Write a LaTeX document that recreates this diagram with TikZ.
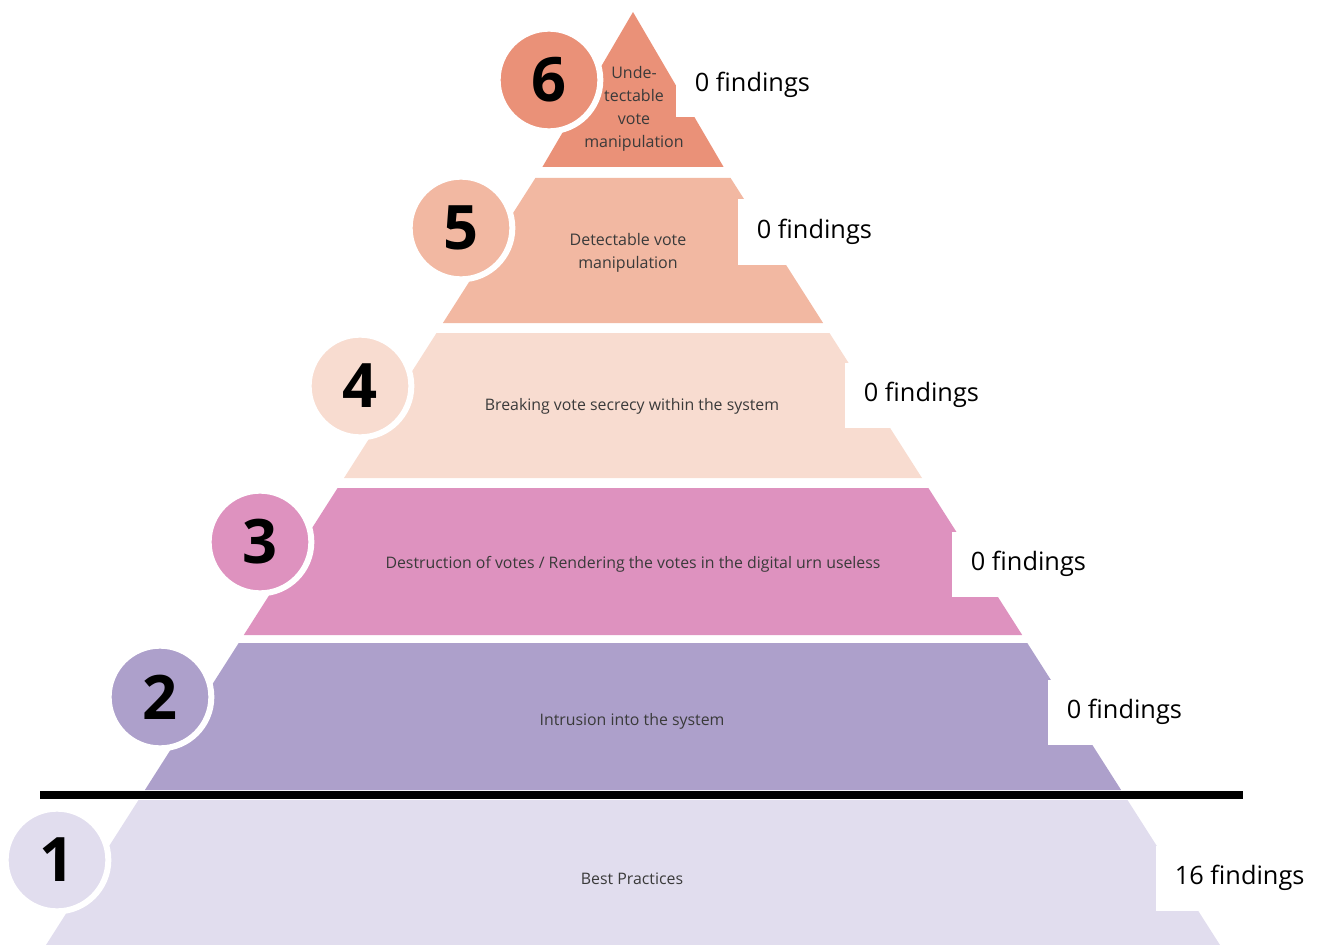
\documentclass[tikz,border=0pt]{standalone}
\usepackage{fontspec}
\setmainfont{Open Sans}
\usetikzlibrary{positioning}

\definecolor{lvlsix}{RGB}{234,145,120}
\definecolor{lvlfive}{RGB}{242,184,162}
\definecolor{lvlfour}{RGB}{248,220,208}
\definecolor{lvlthree}{RGB}{222,146,191}
\definecolor{lvltwo}{RGB}{173,160,203}
\definecolor{lvlone}{RGB}{225,221,238}
\definecolor{labelgray}{RGB}{58,58,58}

\begin{document}
\begin{tikzpicture}[x=0.75pt,y=-0.75pt,
  level/.style={
    inner sep=0pt,
    align=center,
    text=labelgray,
    font=\fontsize{11.9}{17}\selectfont
  },
  badge/.style={
    circle,
    draw=white,
    line width=4.5pt,
    minimum size=77pt,
    inner sep=0pt,
    font=\fontsize{46}{46}\selectfont\bfseries
  },
  count/.style={
    fill=white,
    anchor=west,
    minimum height=48.75pt,
    inner xsep=14pt,
    font=\fontsize{19}{19}\selectfont
  }]
  \useasboundingbox (0,0) rectangle (1321,945);

  % pyramid, bottom to top
  \fill[lvlone]   (138.5,800) -- (1127.5,800) -- (1220,945) -- (46,945) -- cycle;
  \fill[lvltwo]   (238.7,643) -- (1027.3,643) -- (1121.1,790) -- (144.9,790) -- cycle;
  \fill[lvlthree] (337.6,488) -- (928.4,488) -- (1022.2,635) -- (243.8,635) -- cycle;
  \fill[lvlfour]  (436.5,333) -- (829.5,333) -- (922,478) -- (344,478) -- cycle;
  \fill[lvlfive]  (535.4,178) -- (730.6,178) -- (823.1,323) -- (442.9,323) -- cycle;
  \fill[lvlsix]   (633,12) -- (723.6,167) -- (542.4,167) -- cycle;

  \coordinate (lineL) at (40,795);
  \coordinate (lineR) at (1243,795);
  \draw[line width=6pt] (lineL) -- (lineR);

  \node[level,font=\fontsize{12}{17.25}\selectfont] (t6) at (634,109) {Unde-\\tectable\\vote\\manipulation};
  \node[level,font=\fontsize{12}{17.25}\selectfont] (t5) at (628,253) {Detectable vote\\manipulation};
  \node[level] (t4) at (632,406) {Breaking vote secrecy within the system};
  \node[level] (t3) at (633,564) {Destruction of votes / Rendering the votes in the digital urn useless};
  \node[level] (t2) at (632,721) {Intrusion into the system};
  \node[level] (t1) at (632,879) {Best Practices};

  \node[badge,fill=lvlsix]   (n6) at (549,80)  {6};
  \node[badge,fill=lvlfive]  (n5) at (461,228) {5};
  \node[badge,fill=lvlfour]  (n4) at (360,386) {4};
  \node[badge,fill=lvlthree] (n3) at (260,542) {3};
  \node[badge,fill=lvltwo]   (n2) at (160,697) {2};
  \node[badge,fill=lvlone]   (n1) at (57,860)  {1};

  \node[count] (f6) at (676,85)  {0 findings};
  \node[count] (f5) at (738,232) {0 findings};
  \node[count] (f4) at (845,395) {0 findings};
  \node[count] (f3) at (952,564) {0 findings};
  \node[count] (f2) at (1048,712) {0 findings};
  \node[count] (f1) at (1156,878) {16 findings};
\end{tikzpicture}
\end{document}
